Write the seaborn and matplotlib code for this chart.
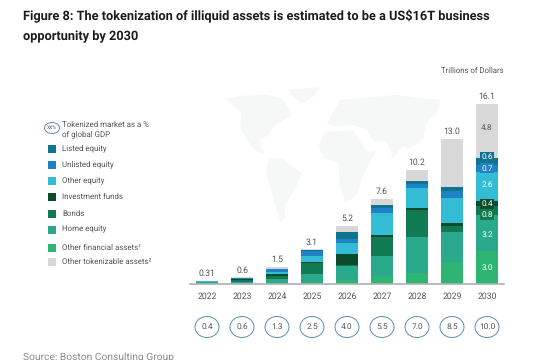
import numpy as np
import pandas as pd
import matplotlib
matplotlib.use('Agg')
import matplotlib.pyplot as plt
from matplotlib.patches import Ellipse, Rectangle, Polygon
import seaborn as sns

years = ['2022','2023','2024','2025','2026','2027','2028','2029','2030']
total_labels = ['0.31','0.6','1.5','3.1','5.2','7.6','10.2','13.0','16.1']
gdp_labels = ['0.4','0.6','1.3','2.5','4.0','5.5','7.0','8.5','10.0']

# bottom of the stack first
other_financial = [0.05,0.02,0.05,0.20,0.40,0.75,0.95,2.00,3.0]
home_equity = [0.14,0.20,0.40,0.70,1.25,1.75,3.30,2.65,3.2]
bonds = [0.02,0.15,0.25,1.00,0.05,1.70,2.35,0.55,0.8]
investment_funds = [0.01,0.05,0.20,0.05,1.00,0.20,0.20,0.25,0.4]
other_equity = [0.01,0.05,0.15,0.55,0.95,2.00,1.80,2.25,2.6]
unlisted_equity = [0.01,0.07,0.25,0.45,0.35,0.45,0.40,0.60,0.7]
listed_equity = [0.005,0.04,0.05,0.10,0.70,0.20,0.25,0.40,0.6]
other_tokenizable = [0.005,0.02,0.15,0.05,0.50,0.55,0.95,4.30,4.8]

series_names = ['Other financial assets¹','Home equity','Bonds','Investment funds',
                'Other equity','Unlisted equity','Listed equity','Other tokenizable assets²']
series_colors = ['#2eb573','#2aa98c','#127a52','#0b4a2c','#33bcd4','#1f82c4','#0f7490','#d9d8d8']
series_vals = [other_financial,home_equity,bonds,investment_funds,other_equity,
               unlisted_equity,listed_equity,other_tokenizable]

# labels printed on the 2030 bar, and how far each is nudged off its segment middle
label_2030 = ['3.0','3.2','0.8','0.4','2.6','0.7','0.6','4.8']
nudge_2030 = [0,-0.2,-0.43,0,0.15,0,0.36,0.3]

legend_order = [6,5,4,3,2,1,0,7]
legend_y = [149,165,181,197,214,230,248,262]

W, H = 540, 360
txt = '#555555'
sns.set_theme(style='white')
plt.rcParams['font.family'] = ['Roboto','DejaVu Sans']
plt.rcParams['text.hinting'] = 'no_hinting'

fig = plt.figure(figsize=(W/100, H/100), dpi=100)

# overlay in pixel coords for map, legend and the gdp circles
bg = fig.add_axes([0,0,1,1], zorder=0)
bg.set_xlim(0,W); bg.set_ylim(H,0); bg.axis('off')

def zm(pts):
    return [(210+p[0]/3, 75+p[1]/3) for p in pts]

land = [
    [(45,70),(100,62),(160,58),(215,70),(245,110),(240,125),(195,150),(170,185),(145,195),(165,240),(135,225),(110,195),(90,155),(95,115),(70,90)],
    [(235,45),(330,35),(310,65),(275,85),(255,70)],
    [(175,250),(215,250),(275,295),(255,345),(225,390),(225,430),(212,441),(195,390),(168,290)],
    [(345,170),(430,165),(470,230),(500,225),(460,300),(440,360),(405,385),(390,330),(385,265),(345,250),(325,215)],
    [(360,130),(390,75),(440,70),(560,60),(690,75),(680,115),(650,140),(640,190),(600,220),(575,215),(550,250),(530,200),(490,200),(470,165),(430,150),(390,155),(350,150)],
]
for p in land:
    bg.add_patch(Polygon(zm(p), closed=True, fc='#f6f7f7', ec='none'))

bg.text(23,16,'Figure 8: The tokenization of illiquid assets is estimated to be a US$16T business',
        fontsize=9.2,fontweight='bold',color='#1c1c1c',va='center')
bg.text(23,37,'opportunity by 2030',fontsize=9.2,fontweight='bold',color='#1c1c1c',va='center')
bg.text(504,71,'Trillions of Dollars',fontsize=5.6,color=txt,ha='right',va='center')
bg.text(23,357,'Source: Boston Consulting Group',fontsize=7.4,color='#8a8a8a',va='center')

# legend
bg.add_patch(Ellipse((52,128),15,11,fc='white',ec='#5b8fb0',lw=0.7))
bg.text(52,128,'XX%',fontsize=3.6,color=txt,ha='center',va='center')
bg.text(62,124.5,'Tokenized market as a %',fontsize=5.7,color=txt,va='center')
bg.text(62,134.5,'of global GDP',fontsize=5.7,color=txt,va='center')
for i,y in zip(legend_order,legend_y):
    bg.add_patch(Rectangle((48,y-4),8,8,fc=series_colors[i],ec='none'))
    bg.text(62,y-0.5,series_names[i],fontsize=5.7,color=txt,va='center')

# gdp circles under the years
for i,lab in enumerate(gdp_labels):
    cx = 207+35*i
    bg.add_patch(Ellipse((cx,327),24,21,fc='white',ec='#5b8fb0',lw=0.7))
    bg.text(cx,327,lab,fontsize=6,color=txt,ha='center',va='center')

# bars
left, right, bottom, top = 190, 504, 284, 83
ax = fig.add_axes([left/W, 1-bottom/H, (right-left)/W, (bottom-top)/H], zorder=1)
ax.patch.set_alpha(0)

df = pd.DataFrame({'year':years})
stack = np.cumsum(np.array(series_vals),axis=0)
# tallest first, each shorter cumulative bar paints over it
for k in range(len(series_vals)-1,-1,-1):
    df['h'] = stack[k]
    sns.barplot(data=df,x='year',y='h',color=series_colors[k],saturation=1,width=0.63,
                linewidth=0,ax=ax,order=years)

ax.set_xlim(-0.486,8.486)
ax.set_ylim(0,18)
ax.set_xlabel(''); ax.set_ylabel('')
ax.set_yticks([])
ax.tick_params(axis='x',length=0,pad=6,labelsize=6.2,labelcolor=txt)
sns.despine(ax=ax,left=True)
ax.spines['bottom'].set_color('#b0b0b0')
ax.spines['bottom'].set_linewidth(1.2)

for i,lab in enumerate(total_labels):
    ax.annotate(lab,(i,stack[-1][i]),xytext=(0,2.2),textcoords='offset points',
                ha='center',va='bottom',fontsize=6.2,color=txt)

for k,lab in enumerate(label_2030):
    mid = stack[k][8]-series_vals[k][8]/2+nudge_2030[k]
    col = '#555555' if k==7 else 'white'
    box = None
    if k in (2,3,5,6):
        box = dict(fc=series_colors[k],ec='none',pad=0.9)
    ax.text(8,mid,lab,ha='center',va='center',fontsize=6,color=col,bbox=box)

fig.savefig('out.png',dpi=100)
